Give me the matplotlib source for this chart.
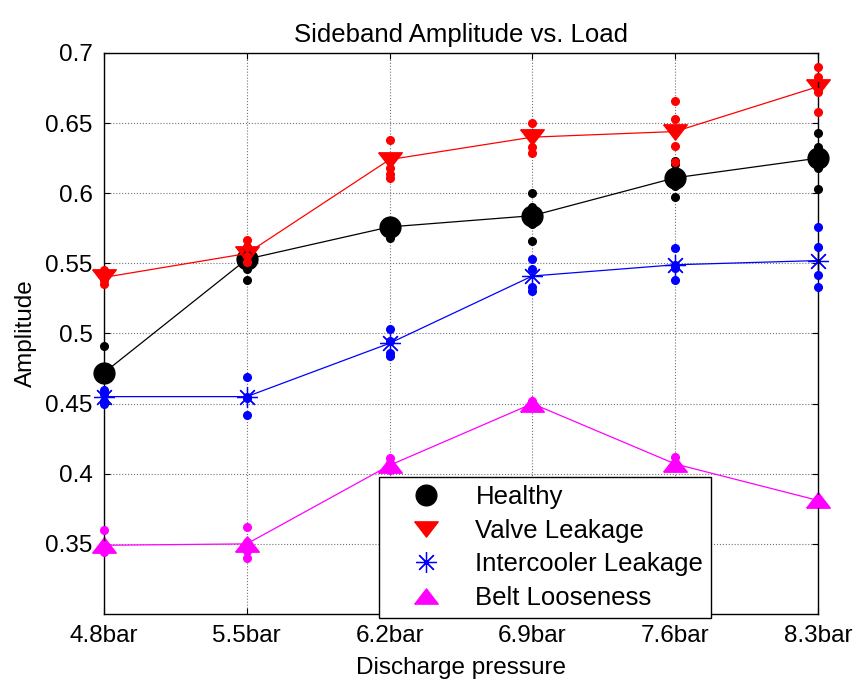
import matplotlib
matplotlib.use("Agg")
import matplotlib.pyplot as plt
from matplotlib.lines import Line2D

plt.rcParams['font.family'] = ['Liberation Sans', 'DejaVu Sans']

# pressions de refoulement
pressions = ['4.8bar', '5.5bar', '6.2bar', '6.9bar', '7.6bar', '8.3bar']

# moyennes par etat
sain_moy = [0.472, 0.553, 0.576, 0.584, 0.611, 0.625]
valve_moy = [0.540, 0.557, 0.624, 0.640, 0.644, 0.676]
refroid_moy = [0.455, 0.455, 0.493, 0.541, 0.549, 0.552]
courroie_moy = [0.349, 0.350, 0.406, 0.450, 0.407, 0.381]

# mesures individuelles (4 par pression)
sain_mes = [[0.491, 0.476, 0.468, 0.472], [0.562, 0.556, 0.546, 0.538],
            [0.580, 0.574, 0.572, 0.568], [0.600, 0.590, 0.578, 0.566],
            [0.623, 0.621, 0.605, 0.597], [0.643, 0.633, 0.618, 0.603]]
valve_mes = [[0.545, 0.542, 0.538, 0.535], [0.567, 0.562, 0.555, 0.551],
             [0.638, 0.618, 0.614, 0.611], [0.650, 0.643, 0.633, 0.629],
             [0.666, 0.653, 0.634, 0.622], [0.690, 0.683, 0.672, 0.658]]
refroid_mes = [[0.460, 0.457, 0.452, 0.450], [0.469, 0.455, 0.454, 0.442],
               [0.503, 0.495, 0.486, 0.484], [0.553, 0.546, 0.533, 0.530],
               [0.561, 0.549, 0.547, 0.538], [0.576, 0.562, 0.542, 0.533]]
courroie_mes = [[0.360, 0.349, 0.346, 0.344], [0.362, 0.351, 0.345, 0.340],
                [0.411, 0.408, 0.405, 0.403], [0.452, 0.450, 0.449, 0.448],
                [0.412, 0.408, 0.406, 0.405], [0.382, 0.381, 0.380, 0.379]]

x = list(range(1, len(pressions) + 1))

# triangles aplatis facon matlab
tri_bas = [(-1, 0.65), (1, 0.65), (0, -0.65), (-1, 0.65)]
tri_haut = [(-1, -0.65), (1, -0.65), (0, 0.65), (-1, -0.65)]
etoile = (8, 2, 0)

fig = plt.figure(figsize=(8.6, 6.82), dpi=100)
ax = fig.add_axes([0.1209, 0.0997, 0.8302, 0.8226])

series = [
    (sain_moy, sain_mes, 'k', 'o', 15, 'Healthy'),
    (valve_moy, valve_mes, '#ff0000', tri_bas, 17, 'Valve Leakage'),
    (refroid_moy, refroid_mes, '#0000ff', etoile, 15, 'Intercooler Leakage'),
    (courroie_moy, courroie_mes, '#ff00ff', tri_haut, 17, 'Belt Looseness'),
]

poignees = []
for moy, mes, c, m, ms, nom in series:
    if m == etoile:
        ax.plot(x, moy, color=c, lw=0.9, marker=m, ms=ms, mec=c, mew=0.9, clip_on=False)
    else:
        ax.plot(x, moy, color=c, lw=0.9, marker=m, ms=ms, mfc=c, mec=c, clip_on=False)
    for i in range(len(x)):
        ax.plot([x[i]] * len(mes[i]), mes[i], 'o', color=c, ms=5.5, zorder=3, clip_on=False)
    poignees.append(Line2D([], [], ls='none', marker=m, ms=ms, color=c,
                           mfc=c, mec=c, mew=0.9, label=nom))

ax.set_xlim(1, 6)
ax.set_ylim(0.3, 0.7)
ax.set_xticks(x)
ax.set_xticklabels(pressions)
ax.set_yticks([0.35, 0.4, 0.45, 0.5, 0.55, 0.6, 0.65, 0.7])
ax.set_yticklabels(['0.35', '0.4', '0.45', '0.5', '0.55', '0.6', '0.65', '0.7'])
ax.tick_params(direction='in', length=4, top=True, right=True, labelsize=17.5, pad=8)
ax.grid(True, ls=':', color='0.45', lw=0.8)
for s in ax.spines.values():
    s.set_linewidth(1.0)

ax.set_title('Sideband Amplitude vs. Load', fontsize=18.5, pad=8)
ax.set_xlabel('Discharge pressure', fontsize=17.5, labelpad=7)
ax.set_ylabel('Amplitude', fontsize=17.5, labelpad=6)

leg = ax.legend(handles=poignees, loc='lower left', bbox_to_anchor=(0.385, -0.007),
                borderaxespad=0, fontsize=18.5, fancybox=False, framealpha=1,
                edgecolor='k', handlelength=3.1, handletextpad=0.36,
                labelspacing=0.38, borderpad=0.3)
leg.get_frame().set_linewidth(1.0)

fig.savefig('out.png', dpi=100)
